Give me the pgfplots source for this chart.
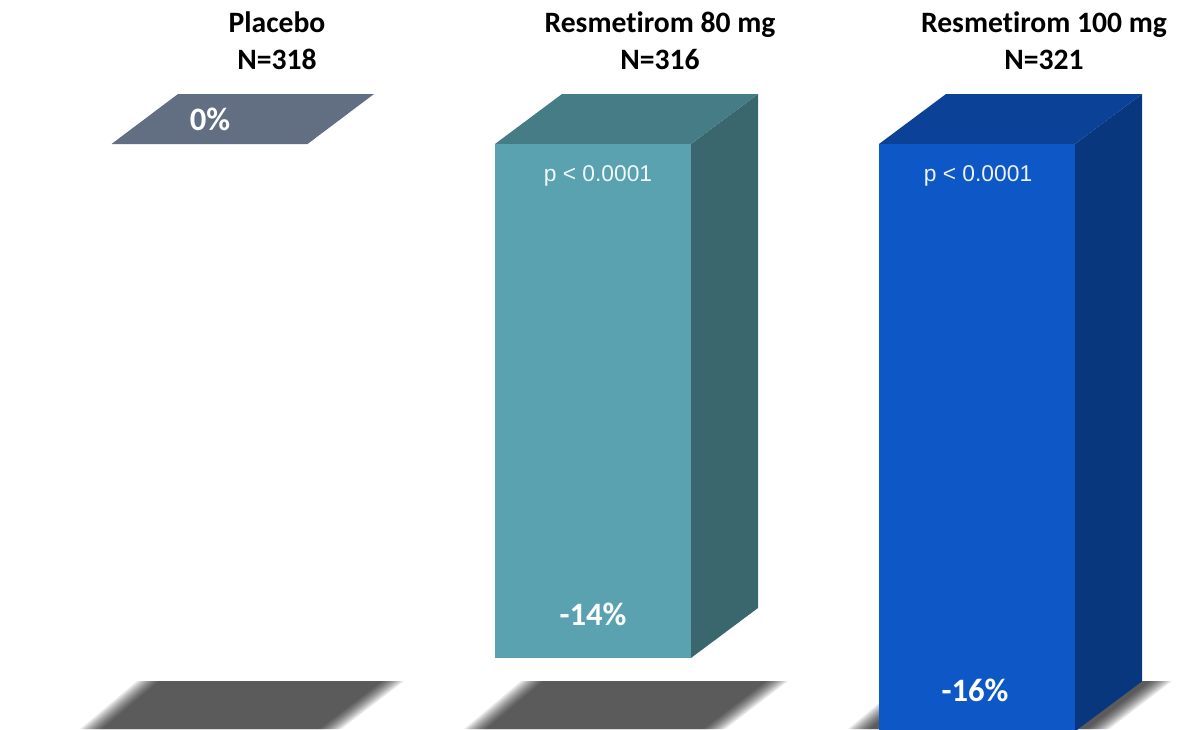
\documentclass[border=0pt]{standalone}
\usepackage{fontspec}
\setmainfont[Ligatures=NoCommon]{Carlito}
\newfontfamily\pfont{Liberation Sans}
\usepackage{pgfplots}
\usepackage{pgfplotstable}
\pgfplotsset{compat=1.18}

\definecolor{placeboTop}{HTML}{626E82}
\definecolor{midFront}{HTML}{5AA2B0}
\definecolor{midTop}{HTML}{467C85}
\definecolor{midSide}{HTML}{3A676E}
\definecolor{highFront}{HTML}{0E57C6}
\definecolor{highTop}{HTML}{0B4196}
\definecolor{highSide}{HTML}{08377E}

% Floor shadow outline; s tells which way a vertex moves as the soft edge widens
\pgfplotstableread{
x   s  y
148 1  -14.63
393 -1 -14.63
330 -1 -15.94
91  1  -15.94
}\shadowpoly

% One soft-edged shadow: stacked translucent copies, shifted sideways by #1
\newcommand\floorshadow[1]{%
  \pgfplotsinvokeforeach{-11,-9,...,11}{%
    \addplot[draw=none, fill=black, fill opacity=0.079, forget plot]
      table[x expr=\thisrow{x}+#1+\thisrow{s}*##1, y=y]{\shadowpoly};
  }%
}

\begin{document}
\begin{tikzpicture}
\begin{axis}[
  scale only axis,
  width=891.75pt, height=546.75pt,
  xmin=0, xmax=1189,
  ymin=-15.935, ymax=3.923,
  hide axis,
  clip=true,
]
% White page behind everything
\addplot[draw=none, fill=white, forget plot] coordinates {(0,-15.935) (1189,-15.935) (1189,3.923) (0,3.923)};

\floorshadow{0}
\floorshadow{384}
\floorshadow{768}

% Placebo: 0 %, only the top face shows
\addplot[draw=none, fill=placeboTop] coordinates {(111.5,0) (307.5,0) (374,1.362) (178,1.362)};

% Resmetirom 80 mg: -14 %
\addplot[draw=none, fill=midSide] coordinates {(691,0) (758,1.362) (758,-12.638) (691,-14)};
\addplot[draw=none, fill=midTop] coordinates {(495,0) (691,0) (758,1.362) (562,1.362)};
\addplot[draw=none, fill=midFront] coordinates {(495,0) (691,0) (691,-14) (495,-14)};

% Resmetirom 100 mg: -16 %
\addplot[draw=none, fill=highSide] coordinates {(1075,0) (1142,1.362) (1142,-14.638) (1075,-16)};
\addplot[draw=none, fill=highTop] coordinates {(879,0) (1075,0) (1142,1.362) (946,1.362)};
\addplot[draw=none, fill=highFront] coordinates {(879,0) (1075,0) (1075,-16) (879,-16)};

% Column headings
\node[font=\fontsize{22.2pt}{24.75pt}\selectfont\bfseries, align=center, inner sep=0pt] at (axis cs:277,2.82) {Placebo\\[3pt]N=318};
\node[font=\fontsize{22.2pt}{24.75pt}\selectfont\bfseries, align=center, inner sep=0pt] at (axis cs:660,2.82) {Resmetirom 80 mg\\[3pt]N=316};
\node[font=\fontsize{22.2pt}{24.75pt}\selectfont\bfseries, align=center, inner sep=0pt] at (axis cs:1044,2.82) {Resmetirom 100 mg\\[3pt]N=321};

% Value labels
\node[font=\fontsize{24.5pt}{28pt}\selectfont\bfseries, text=white, inner sep=0pt] at (axis cs:210,0.68) {0\%};
\node[font=\fontsize{24.5pt}{28pt}\selectfont\bfseries, text=white, inner sep=0pt] at (axis cs:593,-12.80) {-14\%};
\node[font=\fontsize{24.5pt}{28pt}\selectfont\bfseries, text=white, inner sep=0pt] at (axis cs:975,-14.87) {-16\%};

% Significance labels
\node[font=\fontsize{17.1pt}{20pt}\selectfont\pfont, text=white!92!midFront, inner sep=0pt] at (axis cs:598,-0.87) {p < 0.0001};
\node[font=\fontsize{17.1pt}{20pt}\selectfont\pfont, text=white!92!highFront, inner sep=0pt] at (axis cs:978,-0.87) {p < 0.0001};
\end{axis}
\end{tikzpicture}
\end{document}
